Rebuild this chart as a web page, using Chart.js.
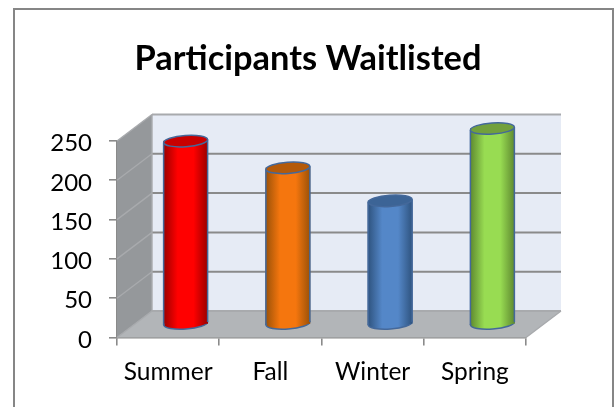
<!DOCTYPE html>
<html><head><meta charset="utf-8">
<style>html,body{margin:0;padding:0;background:#fff}canvas{display:block}</style>
<script src="https://cdn.jsdelivr.net/npm/chart.js@4/dist/chart.umd.min.js"></script>
</head><body><canvas id="c" width="616" height="407" style="width:616px;height:407px"></canvas>
<script>
const categories = ["Summer", "Fall", "Winter", "Spring"];
const participants = [233, 199, 157, 249];
const sideColors = [
  ["#9c0000", "#ff0000", "#ff0000", "#9c0000"],
  ["#9c5208", "#f5760e", "#f5760e", "#9c5208"],
  ["#2f5480", "#5487c8", "#5487c8", "#2f5480"],
  ["#5f8a30", "#98dc52", "#98dc52", "#5f8a30"]
];
const capColors = ["#c80000", "#b45a0a", "#3c6496", "#72a03c"];
const DX = 35, DY = 26.5, BAR = 44, RX = 22, RY = 5.6, TILT = -0.07;
const EDGE = "#44689a", GRID = "#8a8a8a", SOFT = "#a8aaad";
const titleText = "Participants Waitlisted";

function sideGrad(ctx, x, i) {
  const g = ctx.createLinearGradient(x - BAR / 2, 0, x + BAR / 2, 0);
  const c = sideColors[i];
  g.addColorStop(0, c[0]); g.addColorStop(0.32, c[1]); g.addColorStop(0.68, c[2]); g.addColorStop(1, c[3]);
  return g;
}

const scene = {
  id: "scene",
  beforeDraw(chart) {
    const { ctx, scales: { y } } = chart;
    y.getLabelItems().forEach(it => {
      if (!it.moved) { it.options.translation[1] += 2.5; it.moved = true; }
    });
    ctx.save();
    ctx.fillStyle = "#fff"; ctx.fillRect(0, 0, 616, 407);
    ctx.strokeStyle = "#868686"; ctx.lineWidth = 2;
    ctx.beginPath();
    ctx.moveTo(14, 407); ctx.lineTo(14, 9); ctx.lineTo(613, 9); ctx.lineTo(613, 407);
    ctx.stroke();
    ctx.restore();
  },
  beforeDatasetsDraw(chart) {
    const { ctx, chartArea: a, scales: { y } } = chart;
    const L = a.left, R = a.right, B = a.bottom, T = a.top;
    ctx.save();
    ctx.fillStyle = "#e6ebf5";
    ctx.fillRect(L + DX, T - DY, R - L, B - T);
    ctx.fillStyle = "#95989b";
    ctx.beginPath();
    ctx.moveTo(L, B); ctx.lineTo(L + DX, B - DY); ctx.lineTo(L + DX, T - DY); ctx.lineTo(L, T);
    ctx.closePath(); ctx.fill();
    ctx.fillStyle = "#b2b5b8";
    ctx.beginPath();
    ctx.moveTo(L, B); ctx.lineTo(R, B); ctx.lineTo(R + DX, B - DY); ctx.lineTo(L + DX, B - DY);
    ctx.closePath(); ctx.fill();
    y.ticks.forEach(t => {
      const py = y.getPixelForValue(t.value);
      const edge = t.value === y.min || t.value === y.max;
      ctx.lineWidth = 2; ctx.strokeStyle = edge ? SOFT : GRID;
      ctx.beginPath();
      ctx.moveTo(L + DX, py - DY); ctx.lineTo(R + DX, py - DY);
      ctx.stroke();
      ctx.lineWidth = 1.4; ctx.strokeStyle = SOFT;
      ctx.beginPath();
      ctx.moveTo(L, py); ctx.lineTo(L + DX, py - DY);
      ctx.stroke();
    });
    ctx.strokeStyle = SOFT; ctx.lineWidth = 1.4;
    ctx.beginPath();
    ctx.moveTo(L + DX, T - DY); ctx.lineTo(L + DX, B - DY);
    ctx.moveTo(R, B); ctx.lineTo(R + DX, B - DY);
    ctx.stroke();
    ctx.restore();
  },
  beforeDatasetDraw(chart) {
    const { ctx } = chart;
    const meta = chart.getDatasetMeta(0);
    ctx.save();
    ctx.translate(DX / 2, -DY / 2);
    meta.data.forEach((el, i) => {
      ctx.beginPath();
      ctx.ellipse(el.x, el.base, RX, RY, TILT, 0, Math.PI * 2);
      ctx.fillStyle = sideGrad(ctx, el.x, i); ctx.fill();
      ctx.strokeStyle = EDGE; ctx.lineWidth = 1.5; ctx.stroke();
    });
  },
  afterDatasetDraw(chart) {
    const { ctx } = chart;
    const meta = chart.getDatasetMeta(0);
    meta.data.forEach((el, i) => {
      ctx.strokeStyle = EDGE; ctx.lineWidth = 1.5;
      ctx.beginPath();
      ctx.moveTo(el.x - RX, el.y + 1.5); ctx.lineTo(el.x - RX, el.base + 1.5);
      ctx.moveTo(el.x + RX, el.y - 1.5); ctx.lineTo(el.x + RX, el.base - 1.5);
      ctx.stroke();
      ctx.beginPath();
      ctx.ellipse(el.x, el.y, RX, RY, TILT, 0, Math.PI * 2);
      ctx.fillStyle = capColors[i]; ctx.fill();
      ctx.stroke();
    });
    ctx.restore();
  }
};

new Chart(document.getElementById("c"), {
  type: "bar",
  data: {
    labels: categories,
    datasets: [{
      data: participants,
      barThickness: BAR,
      borderWidth: 0,
      backgroundColor: c => {
        const i = c.dataIndex;
        if (i === undefined) return sideColors[0][1];
        const x = c.chart.scales.x.getPixelForValue(i);
        return Number.isFinite(x) ? sideGrad(c.chart.ctx, x, i) : sideColors[i][1];
      }
    }]
  },
  plugins: [scene],
  options: {
    responsive: false,
    animation: false,
    plugins: {
      legend: { display: false },
      tooltip: { enabled: false },
      title: {
        display: true, text: titleText, color: "#000",
        font: { family: "Lato", size: 34.4, weight: "bold", lineHeight: 1.2 },
        padding: { top: 38, bottom: 61.7 }
      }
    },
    scales: {
      x: {
        afterFit: s => { s.height = 69.5; },
        grid: { drawOnChartArea: false, drawTicks: true, tickLength: 8, color: GRID, lineWidth: 1.6, offset: true },
        border: { color: GRID, width: 1.6 },
        ticks: { color: "#000", font: { family: "Lato", size: 24.5 }, padding: 12, maxRotation: 0 }
      },
      y: {
        min: 0, max: 250,
        afterFit: s => { s.width = 117; },
        grid: { drawOnChartArea: false, drawTicks: true, tickLength: 8, color: GRID, lineWidth: 1.6 },
        border: { color: GRID, width: 1.6 },
        ticks: { stepSize: 50, color: "#000", font: { family: "Lato", size: 24 }, padding: 17 }
      },
      spacer: {
        position: "right",
        afterFit: s => { s.width = 90; },
        grid: { display: false }, border: { display: false }, ticks: { display: false }
      }
    }
  }
});
</script></body></html>
